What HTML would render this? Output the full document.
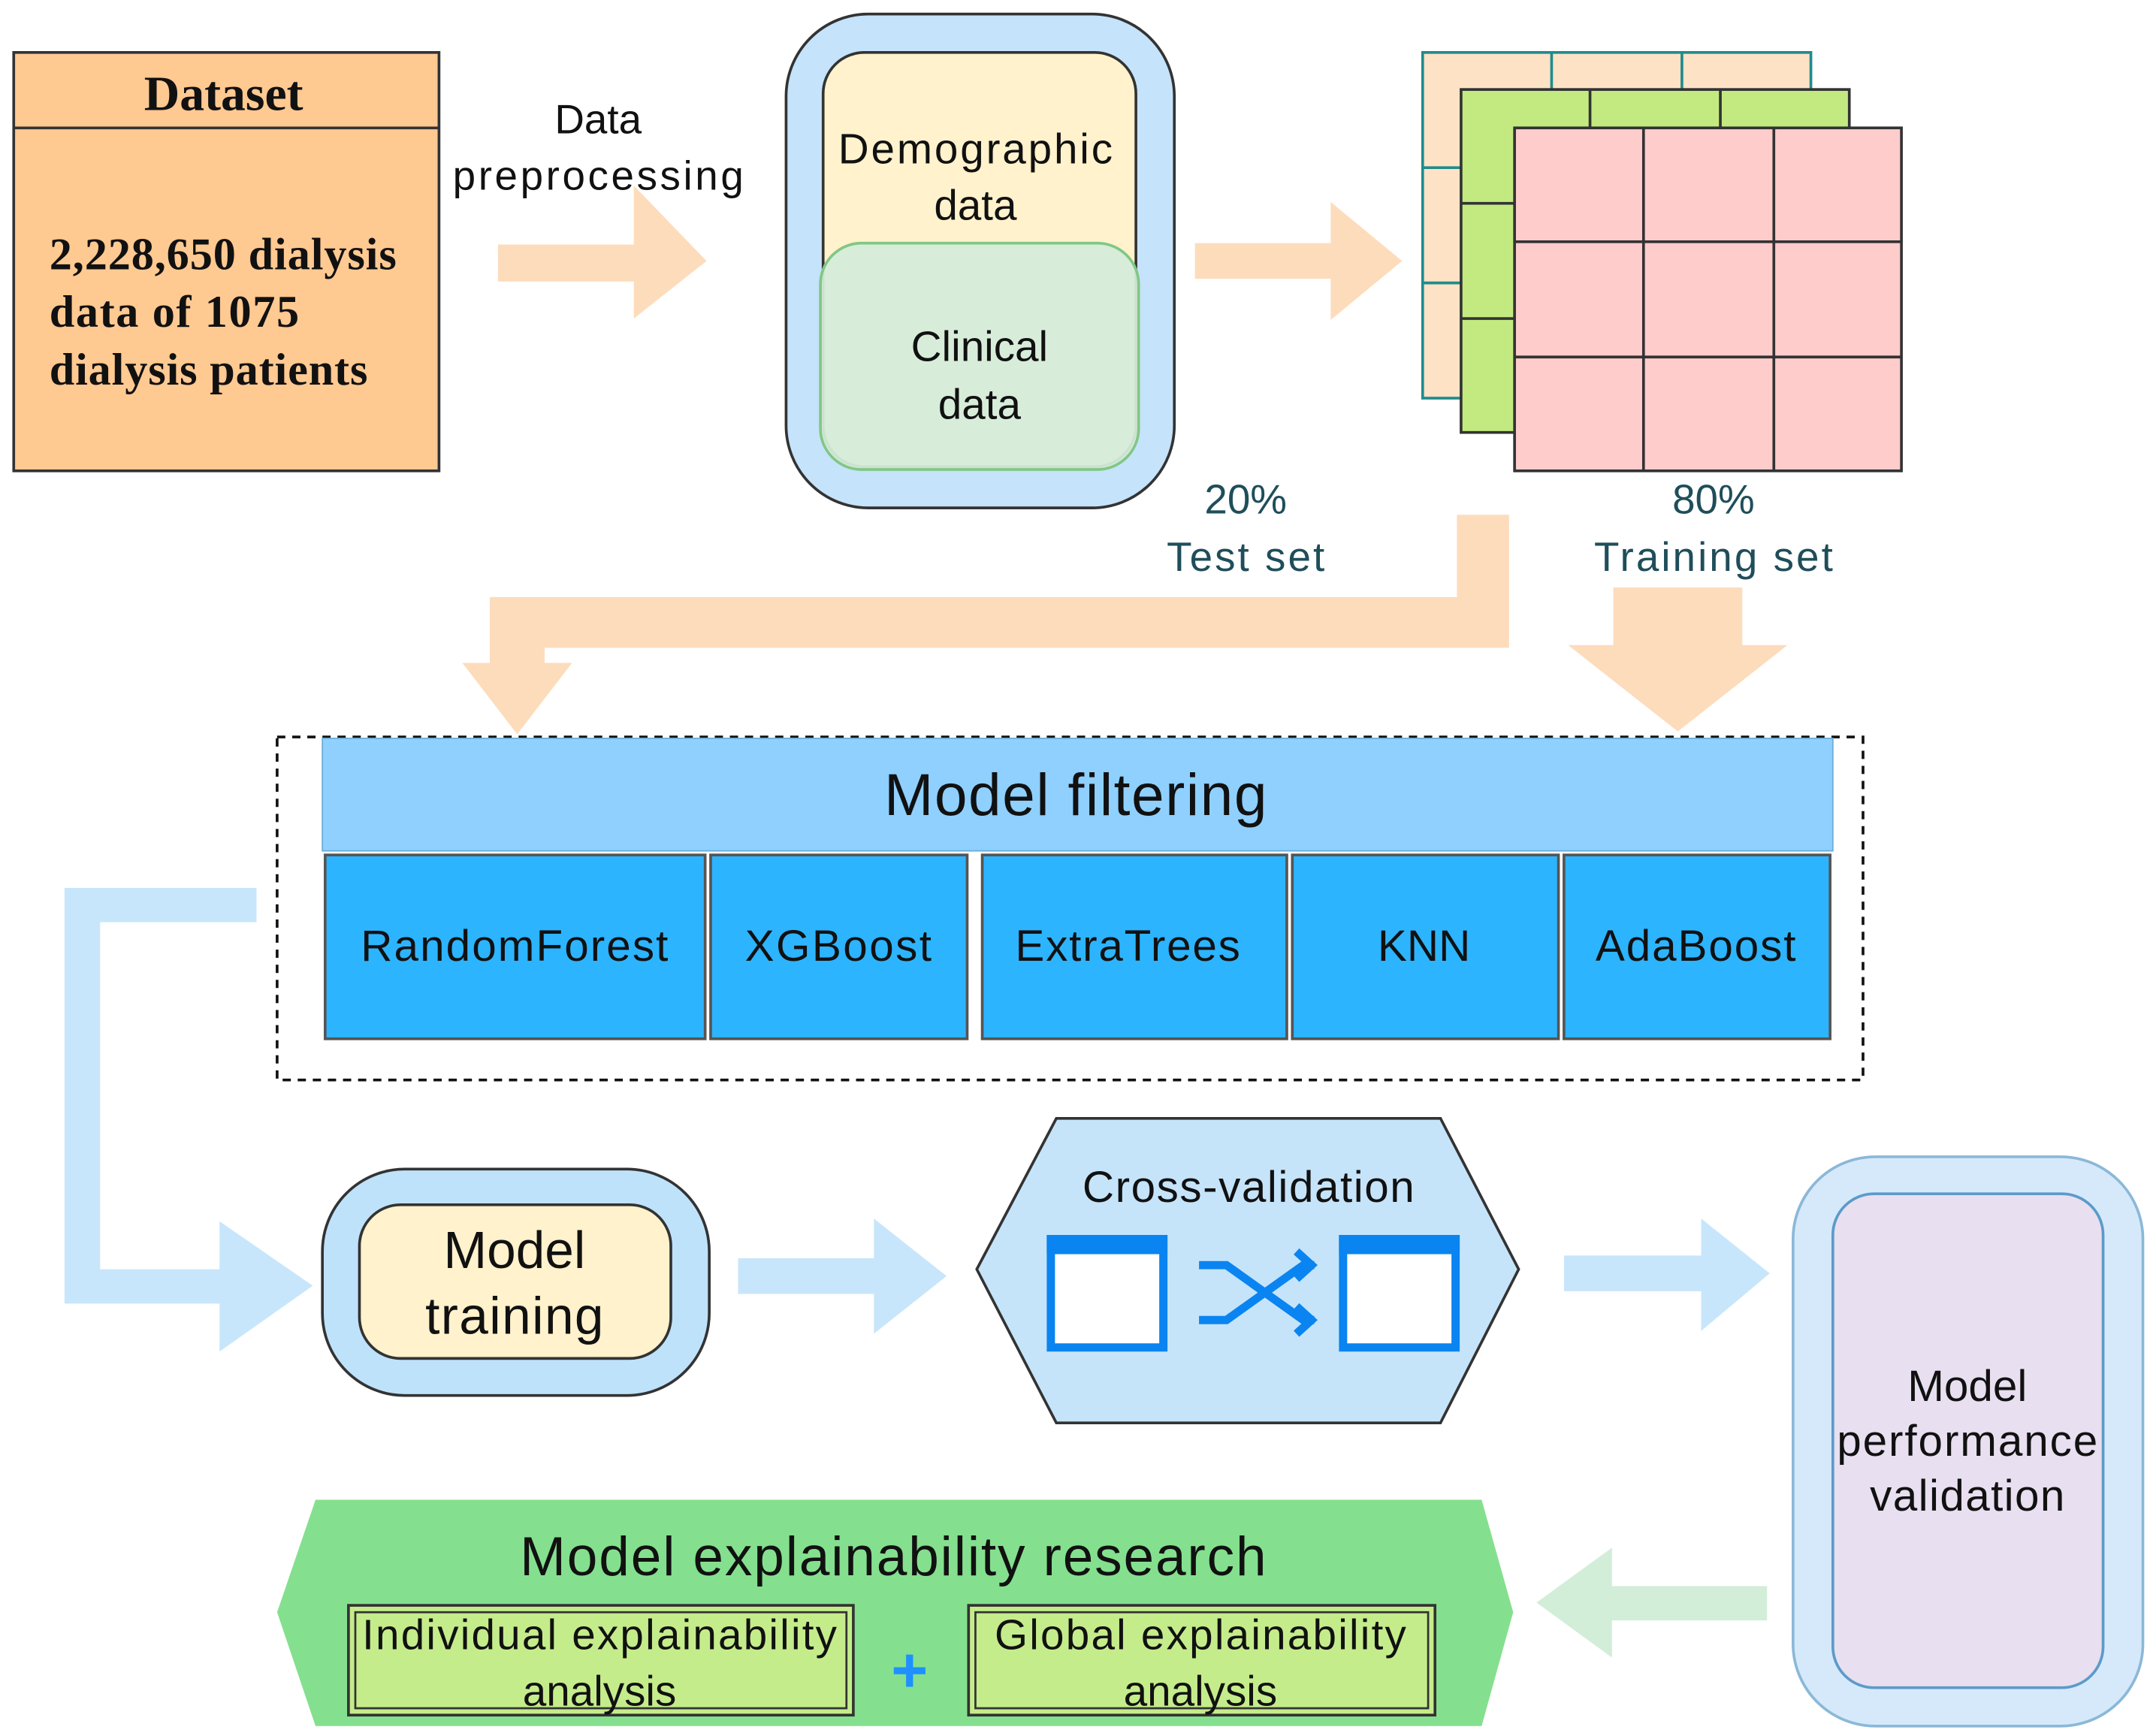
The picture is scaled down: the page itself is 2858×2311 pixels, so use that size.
<!DOCTYPE html>
<html><head><meta charset="utf-8"><style>html,body{margin:0;padding:0;background:#fff}svg{display:block}</style></head>
<body>
<svg width="2858" height="2311" viewBox="0 0 1565 1265" xmlns="http://www.w3.org/2000/svg" font-family="Liberation Sans, DejaVu Sans, sans-serif">
<rect width="1565" height="1265" fill="#fff"/>
<rect x="10" y="38" width="310" height="305" fill="#FFC992" stroke="#333" stroke-width="2"/>
<line x1="10" y1="93" x2="320" y2="93" stroke="#333" stroke-width="2"/>
<g font-family="Liberation Serif, serif" font-weight="bold" fill="#111">
<text x="163" y="80" font-size="36" text-anchor="middle">Dataset</text>
<text x="36" y="196" font-size="33" textLength="253">2,228,650 dialysis</text>
<text x="36" y="238" font-size="33" textLength="182">data  of 1075</text>
<text x="36" y="280" font-size="33" textLength="232">dialysis  patients</text>
</g>
<text x="436" y="97" font-size="30" text-anchor="middle" fill="#111">Data</text>
<text x="436" y="138" font-size="30" text-anchor="middle" fill="#111" textLength="212">preprocessing</text>
<polygon points="363,178 462,178 462,135 515,190 462,232 462,205 363,205" fill="#FDDCBC"/>
<rect x="573" y="10" width="283" height="360" rx="60" fill="#C5E3FA" stroke="#333" stroke-width="2"/>
<rect x="600" y="38" width="228" height="302" rx="30" fill="#FFF2CC" stroke="#333" stroke-width="2"/>
<rect x="598" y="177" width="232" height="165" rx="30" fill="#D5ECD9" fill-opacity="0.95" stroke="#82C785" stroke-width="2"/>
<text x="711" y="119" font-size="31" text-anchor="middle" fill="#111" textLength="200">Demographic</text>
<text x="711" y="160" font-size="31" text-anchor="middle" fill="#111">data</text>
<text x="714" y="263" font-size="31" text-anchor="middle" fill="#111">Clinical</text>
<text x="714" y="305" font-size="31" text-anchor="middle" fill="#111">data</text>
<polygon points="871,177 970,177 970,147 1022,190 970,233 970,203 871,203" fill="#FDDCBC"/>
<g stroke="#1F8C8C" stroke-width="2" fill="#FDE2C6">
<rect x="1037" y="38" width="283" height="252"/>
<line x1="1131" y1="38" x2="1131" y2="290"/><line x1="1226" y1="38" x2="1226" y2="290"/>
<line x1="1037" y1="122" x2="1320" y2="122"/><line x1="1037" y1="206" x2="1320" y2="206"/>
</g>
<g stroke="#333" stroke-width="2" fill="#C3EA80">
<rect x="1065" y="65" width="283" height="250"/>
<line x1="1159" y1="65" x2="1159" y2="315"/><line x1="1254" y1="65" x2="1254" y2="315"/>
<line x1="1065" y1="148" x2="1348" y2="148"/><line x1="1065" y1="232" x2="1348" y2="232"/>
</g>
<g stroke="#333" stroke-width="2" fill="#FFCCCC">
<rect x="1104" y="93" width="282" height="250"/>
<line x1="1198" y1="93" x2="1198" y2="343"/><line x1="1293" y1="93" x2="1293" y2="343"/>
<line x1="1104" y1="176" x2="1386" y2="176"/><line x1="1104" y1="260" x2="1386" y2="260"/>
</g>
<g font-size="30" text-anchor="middle" fill="#1F4E5A">
<text x="908" y="374">20%</text><text x="908" y="416" textLength="115">Test set</text>
<text x="1249" y="374">80%</text><text x="1249" y="416" textLength="174">Training set</text>
</g>
<polygon points="1062,375 1100,375 1100,472 397,472 397,483 417,483 377,535 337,483 357,483 357,435 1062,435" fill="#FDDCBC"/>
<polygon points="1176,428 1270,428 1270,470 1303,470 1223,533 1143,470 1176,470" fill="#FDDCBC"/>
<rect x="202" y="537" width="1156" height="250" fill="none" stroke="#111" stroke-width="2" stroke-dasharray="6,5"/>
<rect x="235" y="538" width="1101" height="82" fill="#8FD0FF" stroke="#6aaed8" stroke-width="1"/>
<text x="784" y="594" font-size="43" text-anchor="middle" fill="#111" textLength="279">Model filtering</text>
<g fill="#2DB4FF" stroke="#555" stroke-width="2">
<rect x="237" y="623" width="277" height="134"/><rect x="518" y="623" width="187" height="134"/>
<rect x="716" y="623" width="222" height="134"/><rect x="942" y="623" width="194" height="134"/>
<rect x="1140" y="623" width="194" height="134"/>
</g>
<g font-size="32" text-anchor="middle" fill="#111">
<text x="375" y="700" textLength="224">RandomForest</text><text x="611" y="700" textLength="136">XGBoost</text>
<text x="822" y="700" textLength="164">ExtraTrees</text><text x="1038" y="700">KNN</text><text x="1236" y="700" textLength="146">AdaBoost</text>
</g>
<polygon points="47,647 187,647 187,672 73,672 73,925 160,925 160,890 228,937 160,985 160,950 47,950" fill="#C8E6FB"/>
<rect x="235" y="852" width="282" height="165" rx="60" fill="#BFE2FB" stroke="#333" stroke-width="2"/>
<rect x="262" y="878" width="227" height="112" rx="30" fill="#FFF2CC" stroke="#333" stroke-width="2"/>
<text x="375" y="924" font-size="38" text-anchor="middle" fill="#111">Model</text>
<text x="375" y="972" font-size="38" text-anchor="middle" fill="#111" textLength="130">training</text>
<polygon points="538,917 637,917 637,888 690,930 637,972 637,943 538,943" fill="#C8E6FB"/>
<polygon points="712,925 770,815 1050,815 1107,925 1050,1037 770,1037" fill="#C5E4FA" stroke="#333" stroke-width="2"/>
<text x="910" y="876" font-size="32" text-anchor="middle" fill="#111" textLength="242">Cross-validation</text>
<g fill="#fff" stroke="#0A84F0" stroke-width="6">
<rect x="766" y="903" width="82" height="79"/><rect x="979" y="903" width="82" height="79"/>
</g>
<rect x="763" y="900" width="88" height="14" fill="#0A84F0"/><rect x="976" y="900" width="88" height="14" fill="#0A84F0"/>
<g fill="none" stroke="#0A84F0" stroke-width="6">
<path d="M874,922 H894 L922,942 L950,922 H958 M945,912 L956,922 L945,932"/>
<path d="M874,962 H894 L922,942 L950,962 H958 M945,952 L956,962 L945,972"/>
</g>
<polygon points="1140,915 1240,915 1240,888 1290,928 1240,970 1240,941 1140,941" fill="#C8E6FB"/>
<rect x="1307" y="843" width="255" height="415" rx="60" fill="#D6E9FB" stroke="#8BB8D8" stroke-width="2"/>
<rect x="1336" y="870" width="197" height="360" rx="30" fill="#E8DFF0" stroke="#5B9BC8" stroke-width="2"/>
<g font-size="32" text-anchor="middle" fill="#111">
<text x="1434" y="1021">Model</text><text x="1434" y="1061" textLength="190">performance</text><text x="1434" y="1101" textLength="142">validation</text>
</g>
<polygon points="1288,1156 1175,1156 1175,1128 1120,1168 1175,1208 1175,1181 1288,1181" fill="#D2EDD8"/>
<polygon points="202,1175 230,1093 1080,1093 1103,1175 1080,1258 230,1258" fill="#84E08E"/>
<text x="651" y="1148" font-size="40" text-anchor="middle" fill="#111" textLength="544">Model explainability research</text>
<g fill="#C5EC8B" stroke="#333" stroke-width="2">
<rect x="254" y="1170" width="368" height="80"/><rect x="706" y="1170" width="340" height="80"/>
</g>
<g fill="none" stroke="#333" stroke-width="1.5">
<rect x="259" y="1175" width="358" height="70"/><rect x="711" y="1175" width="330" height="70"/>
</g>
<g font-size="31" text-anchor="middle" fill="#111">
<text x="437" y="1202" textLength="346">Individual explainability</text><text x="437" y="1243">analysis</text>
<text x="875" y="1202" textLength="300">Global explainability</text><text x="875" y="1243">analysis</text>
</g>
<text x="663" y="1233" font-size="46" font-weight="bold" text-anchor="middle" fill="#1E90FF">+</text>
</svg>
</body></html>
